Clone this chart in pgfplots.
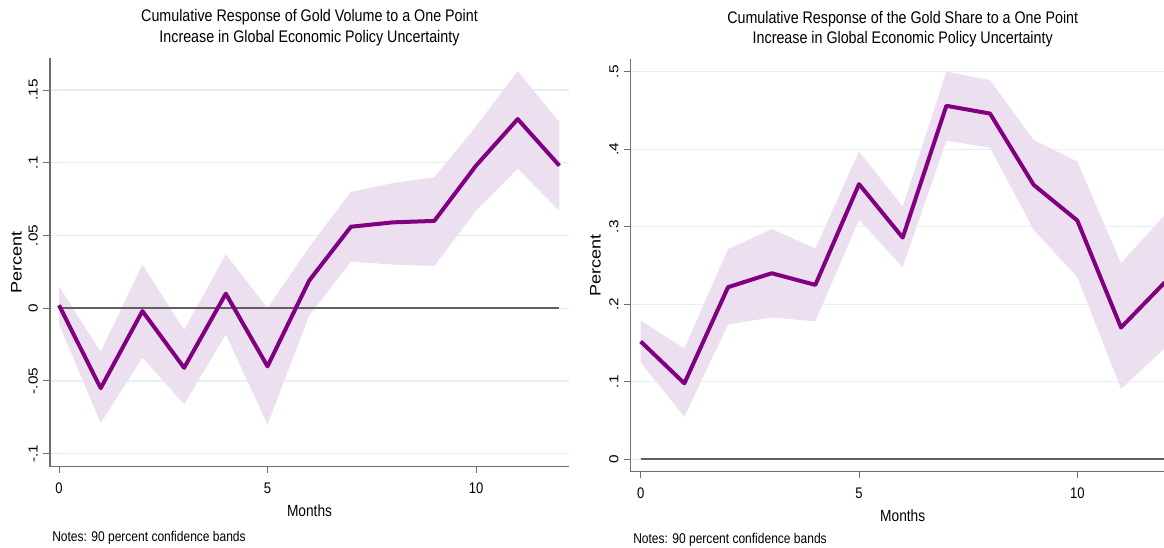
\documentclass[border=0pt]{standalone}
\usepackage{pgfplots}
\pgfplotsset{compat=1.18}
\usepackage{pgfplotstable}
\usepgfplotslibrary{fillbetween}
\usepackage{fontspec}
\setmainfont{Liberation Sans}
\newfontfamily\narrowfont[FakeStretch=0.85]{Liberation Sans}
\newfontfamily\widefont[FakeStretch=1.18]{Liberation Sans}

\definecolor{irfline}{RGB}{128,0,128}
\definecolor{irfband}{RGB}{236,223,239}
\definecolor{gridc}{RGB}{230,240,242}
\definecolor{axisc}{RGB}{110,110,110}
\definecolor{zeroc}{RGB}{95,95,95}

% month, point estimate, lower and upper 90% bounds
\pgfplotstableread{
m   est     lo      hi
0   0.002  -0.011   0.015
1  -0.055  -0.079  -0.030
2  -0.002  -0.034   0.030
3  -0.041  -0.066  -0.015
4   0.010  -0.018   0.037
5  -0.040  -0.080   0.000
6   0.019  -0.005   0.042
7   0.056   0.032   0.080
8   0.059   0.030   0.086
9   0.060   0.029   0.090
10  0.098   0.067   0.125
11  0.130   0.096   0.163
12  0.098   0.067   0.128
}\volume

\pgfplotstableread{
m   est    lo     hi
0   0.152  0.125  0.179
1   0.098  0.055  0.143
2   0.222  0.174  0.271
3   0.240  0.183  0.297
4   0.225  0.178  0.272
5   0.355  0.309  0.397
6   0.286  0.248  0.326
7   0.456  0.411  0.500
8   0.446  0.402  0.489
9   0.354  0.296  0.412
10  0.308  0.235  0.384
11  0.170  0.091  0.253
12  0.228  0.143  0.315
}\share

\pgfplotsset{
  irfaxis/.style={
    scale only axis,
    anchor=south west,
    axis x line*=bottom,
    axis y line*=left,
    axis line style={axisc, line width=0.8pt},
    tick style={axisc, line width=0.6pt},
    tick align=outside,
    major tick length=5pt,
    ymajorgrids,
    grid style={gridc, line width=1pt},
    xtick={0,5,10},
    xticklabels={0,5,10},
    xticklabel style={font=\narrowfont\fontsize{11.5}{12}\selectfont, anchor=north, inner sep=0pt},
    xticklabel shift=7pt,
    yticklabel style={font=\widefont\fontsize{9.75}{10}\selectfont, rotate=90, anchor=south, inner sep=0pt},
    yticklabel shift=4pt,
    /pgf/number format/assume math mode=true,
    title style={font=\narrowfont\fontsize{12.6}{15.4}\selectfont, align=center,
                 at={(axis description cs:0.5,1)}, anchor=south, inner sep=0pt, yshift=3pt},
    xlabel style={font=\narrowfont\fontsize{12.1}{13}\selectfont,
                  at={(axis description cs:0.5,0)}, anchor=base, inner sep=0pt, yshift=-37.5pt},
    xlabel={Months},
    ylabel={Percent},
  },
}

\begin{document}
\begin{tikzpicture}

% Left panel: gold volume
\begin{axis}[irfaxis,
  at={(37.5pt,60.225pt)},
  width=389.25pt, height=306.5pt,
  xmin=-0.216, xmax=12.23,
  ymin=-0.109, ymax=0.172,
  ytick={-0.1,-0.05,0,0.05,0.1,0.15},
  yticklabels={-.1,-.05,0,.05,.1,.15},
  title={Cumulative Response of Gold Volume to a One Point\\Increase in Global Economic Policy Uncertainty},
  ylabel style={font=\widefont\fontsize{11.5}{12}\selectfont,
                at={(axis description cs:-0.0549,0.5)}, anchor=base, inner sep=0pt},
]
\addplot[name path=up, draw=none, forget plot] table[x=m, y=hi] {\volume};
\addplot[name path=lo, draw=none, forget plot] table[x=m, y=lo] {\volume};
\addplot[irfband, draw=none] fill between[of=up and lo];
\addplot[zeroc, line width=1.5pt] coordinates {(0,0) (12,0)};
\addplot[irfline, line width=3pt, line join=round] table[x=m, y=est] {\volume};
\end{axis}

% Right panel: gold share
\begin{axis}[irfaxis,
  at={(473.025pt,56.475pt)},
  width=408pt, height=309.3pt,
  xmin=-0.229, xmax=12.23,
  ymin=-0.016, ymax=0.516,
  ytick={0,0.1,0.2,0.3,0.4,0.5},
  yticklabels={0,.1,.2,.3,.4,.5},
  title={Cumulative Response of the Gold Share to a One Point\\Increase in Global Economic Policy Uncertainty},
  ylabel style={font=\widefont\fontsize{11.5}{12}\selectfont,
                at={(axis description cs:-0.0551,0.5)}, anchor=base, inner sep=0pt},
]
\addplot[name path=up, draw=none, forget plot] table[x=m, y=hi] {\share};
\addplot[name path=lo, draw=none, forget plot] table[x=m, y=lo] {\share};
\addplot[irfband, draw=none] fill between[of=up and lo];
\addplot[zeroc, line width=1.5pt] coordinates {(0,0) (12.23,0)};
\addplot[irfline, line width=3pt, line join=round] table[x=m, y=est] {\share};
\end{axis}

\node[font=\narrowfont\fontsize{10.6}{12}\selectfont, anchor=base west, inner sep=0pt] at (39pt,4.5pt) {Notes: 90 percent confidence bands};
\node[font=\narrowfont\fontsize{10.6}{12}\selectfont, anchor=base west, inner sep=0pt] at (474.75pt,2.4pt) {Notes: 90 percent confidence bands};

% page area
\pgfresetboundingbox
\path[use as bounding box] (0pt,0pt) rectangle (873pt,410.25pt);
\end{tikzpicture}
\end{document}
